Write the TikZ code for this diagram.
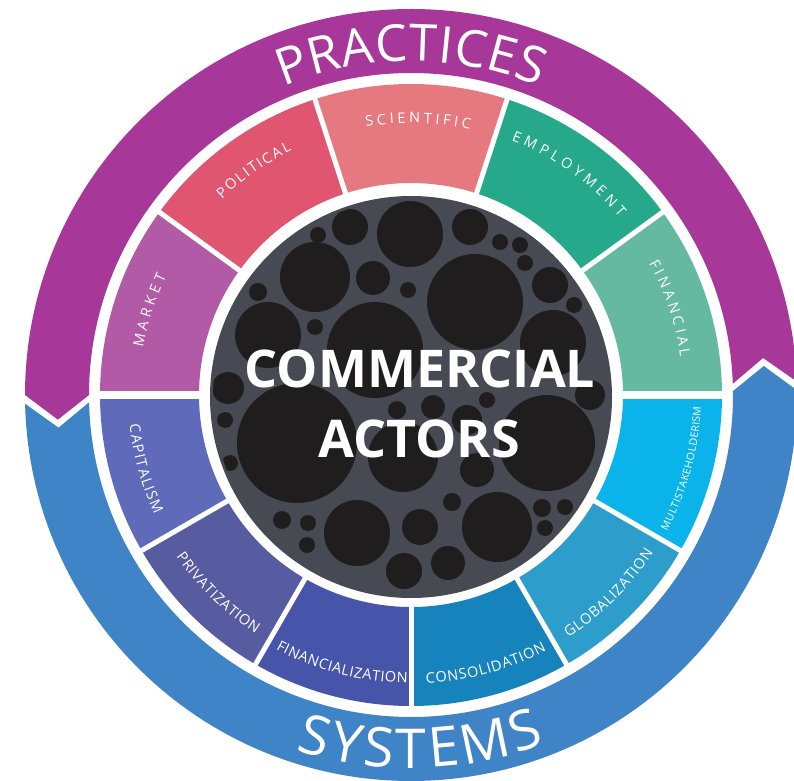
\documentclass[tikz,border=0pt]{standalone}
\usepackage{fontspec}
\newfontfamily\osans{Open Sans}
\usetikzlibrary{decorations.text}

\definecolor{bandP}{HTML}{A8379A}
\definecolor{bandB}{HTML}{3F84C6}
\definecolor{cMarket}{HTML}{B25AA6}
\definecolor{cPol}{HTML}{E0556F}
\definecolor{cSci}{HTML}{E6797F}
\definecolor{cEmp}{HTML}{25A98A}
\definecolor{cFin}{HTML}{65B9A0}
\definecolor{cMulti}{HTML}{0AB4EA}
\definecolor{cGlob}{HTML}{2D9DCB}
\definecolor{cCons}{HTML}{1683BC}
\definecolor{cFinz}{HTML}{4654AA}
\definecolor{cPriv}{HTML}{575B9F}
\definecolor{cCap}{HTML}{5F6BBA}
\definecolor{darkbg}{HTML}{474A52}
\definecolor{bubble}{HTML}{201D1E}

\newcommand\lblTop{\osans\fontsize{14.5}{16}\selectfont}
\newcommand\lblBot{\osans\fontsize{14.5}{16}\selectfont}
\newcommand\lblMulti{\osans\fontsize{10.5}{12}\selectfont}
\newcommand\lblPract{\osans\fontsize{51}{56}\selectfont}
\newcommand\lblSys{\osans\fontsize{55}{60}\selectfont}

% text, start angle, end angle, baseline radius, font command
\newcommand\arclabel[5]{%
  \path[decorate,decoration={text along path,text={|#5|#1},
        text align={fit to path},text color=white}]
    (#2:#4) arc[start angle=#2,end angle=#3,radius=#4];}

\tikzset{
  sepline/.style={white,line width=5},
  midtext/.style={text=white,font=\osans\bfseries\fontsize{52}{56}\selectfont,inner sep=0pt}
}

\begin{document}
\begin{tikzpicture}[x=1pt,y=1pt]
\useasboundingbox (0,0) rectangle (794,780);
\fill[white] (0,0) rectangle (794,780);

\begin{scope}[shift={(411,385)}]
  % outer arrow bands
  \fill[bandP] (2:386) arc[start angle=2,end angle=180,radius=386]
     -- (184:354) -- (180:322) arc[start angle=180,end angle=2,radius=322]
     -- (6:354) -- cycle;
  \fill[bandB] (181.3:386) arc[start angle=181.3,end angle=360.7,radius=386]
     -- (364.7:354) -- (360.7:322) arc[start angle=360.7,end angle=181.3,radius=322]
     -- (185.3:354) -- cycle;

  % segments
  \foreach \a/\b/\c in {144/180/cMarket,108/144/cPol,72/108/cSci,36/72/cEmp,0/36/cFin,
                        180/210/cCap,210/240/cPriv,240/270/cFinz,270/300/cCons,300/330/cGlob,330/360/cMulti}
    \fill[\c] (\a:212) arc[start angle=\a,end angle=\b,radius=212]
       -- (\b:311) arc[start angle=\b,end angle=\a,radius=311] -- cycle;
  \foreach \a in {36,72,108,144,210,240,270,300,330}
    \draw[sepline] (\a:205) -- (\a:318);
  \foreach \a in {0,180}
    \draw[white,line width=8] (\a:205) -- (\a:318);

  % dark core
  \fill[darkbg] (0,-2) circle (201);

  % band labels
  \arclabel{PRACTICES}{112.5}{67.5}{334}{\lblPract}
  \arclabel{SYSTEMS}{252}{291}{373}{\lblSys}

  % top labels
  \arclabel{MARKET}{170}{154}{272}{\lblTop}
  \arclabel{POLITICAL}{134}{116}{272}{\lblTop}
  \arclabel{SCIENTIFIC}{99.5}{77.5}{272}{\lblTop}
  \arclabel{EMPLOYMENT}{68.5}{40.5}{274}{\lblTop}
  \arclabel{FINANCIAL}{29}{8}{272}{\lblTop}

  % bottom labels
  \arclabel{CAPITALISM}{186}{205}{283}{\lblBot}
  \arclabel{PRIVATIZATION}{214.5}{237}{285}{\lblBot}
  \arclabel{FINANCIALIZATION}{242}{269.3}{288}{\lblBot}
  \arclabel{CONSOLIDATION}{273}{298}{289}{\lblBot}
  \arclabel{GLOBALIZATION}{303}{327}{289}{\lblBot}
  \arclabel{MULTISTAKEHOLDERISM}{332}{357.7}{290}{\lblMulti}
\end{scope}

% bubbles (image coordinates, y downward)
\begin{scope}
  \clip (411,383) circle (198);
  \foreach \x/\y/\r in {410/234/33,350/227/18,318/235/8,470/227/18,500/242/8,520/245/8,525/263/8,
      315/277/35,373/278/17,408/290/8,475/302/48,550/285/18,574/305/8,258/292/9,
      268/335/33,315/327/8,375/350/48,553/343/33,228/388/16,297/443/60,403/457/35,
      547/443/48,433/407/12,397/410/9,467/420/15,590/395/15,477/470/17,225/420/8,
      357/533/33,420/527/18,497/527/35,282/520/9,308/523/8,307/545/8,452/502/9,
      542/508/9,565/507/8,545/528/8,404/571/18,448/563/17,230/463/8,487/400/8}
    \fill[bubble] (\x,{780-\y}) circle (\r);
\end{scope}

\node[midtext] (commercial) at (420,411.5) {COMMERCIAL};
\node[midtext] (actors) at (419,341.5) {ACTORS};
\end{tikzpicture}
\end{document}
